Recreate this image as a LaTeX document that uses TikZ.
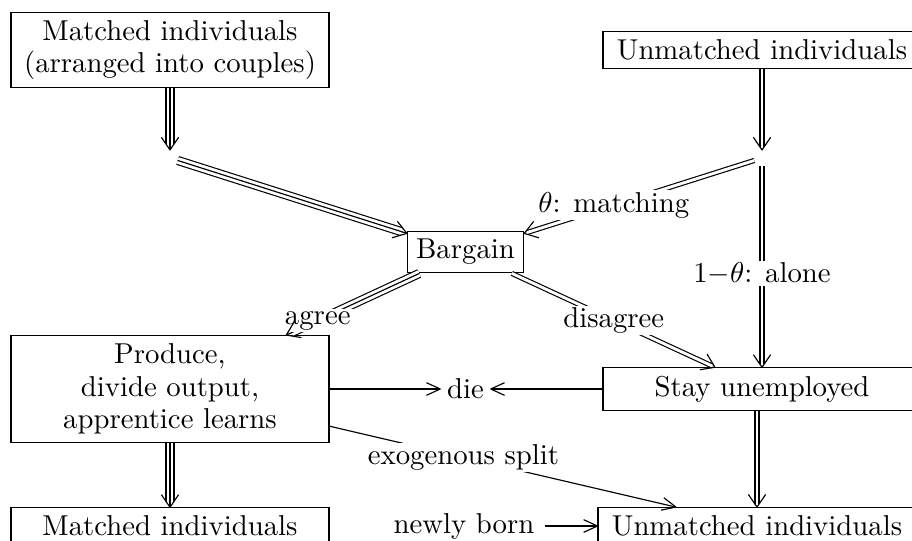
\documentclass[tikz,border=0pt]{standalone}
\usetikzlibrary{decorations.markings}
\begin{document}
\begin{tikzpicture}[x=0.3478pt, y=-0.3478pt,
  box/.style={draw, line width=0.4pt, inner xsep=3pt, inner ysep=2.8pt},
  wbox/.style={box, minimum width=110.6pt, align=center, font=\fontsize{10}{11.3}\selectfont},
  jn/.style={circle, inner sep=0pt, minimum size=5.2pt},
  lbl/.style={fill=white, inner xsep=1pt, inner ysep=0.6pt},
  trip/.style={double, double distance=2.38pt, line width=0.4pt, shorten >=2pt},
  dbl/.style={double, double distance=1pt, line width=0.4pt, shorten >=1pt},
  sgl/.style={line width=0.4pt},
  mhead/.style={decorate, decoration={markings, mark=at position 1 with {\draw[line width=0.4pt, line join=round] (-4.4pt,3pt) -- (0pt,0pt) -- (-4.4pt,-3pt);}}},
  shead/.style={decorate, decoration={markings, mark=at position 1 with {\draw[line width=0.4pt, line join=round] (-4.8pt,2.2pt) -- (0pt,0pt) -- (-4.8pt,-2.2pt);}}}
]
\useasboundingbox (0,0) rectangle (912,540);

% nodes
\node[wbox] (mt) at (170,50) {Matched individuals\\(arranged into couples)};
\node[wbox] (ut) at (762,50) {Unmatched individuals};
\node[jn] (jl) at (170,158) {};
\node[jn] (jr) at (762,158) {};
\node[box] (bar) at (465.5,252) {Bargain};
\node[wbox] (prod) at (170,389) {Produce,\\divide output,\\apprentice learns};
\node[inner xsep=2.2pt, inner ysep=2pt] (die) at (465.5,389) {die};
\node[wbox] (stay) at (762,389) {Stay unemployed};
\node[wbox] (mb) at (170,526) {Matched individuals};
\node[wbox] (ub) at (757,526) {Unmatched individuals};
\node[inner xsep=3.4pt] (nb) at (464,526) {newly born};

% triple connectors
\draw[trip] (mt) -- (jl); \draw[sgl] (mt) -- (jl);
\draw[trip] (jl) -- (bar); \draw[sgl] (jl) -- (bar);
\draw[trip] (bar) -- (prod); \draw[sgl] (bar) -- (prod);
\draw[trip] (prod) -- (mb); \draw[sgl] (prod) -- (mb);
% double connectors
\draw[dbl] (ut) -- (jr);
\draw[dbl] (jr) -- (bar);
\draw[dbl] (jr) -- (stay);
\draw[dbl] (bar) -- (stay);
\draw[dbl] (stay.south -| ub.north) -- (ub.north);
% single connectors
\draw[sgl] (prod) -- (die);
\draw[sgl] (stay) -- (die);
\draw[sgl] (prod) -- (ub);
\draw[sgl] (nb) -- (ub);

% labels
\path (jr.center) -- node[lbl] {$\theta$: matching} (bar.center);
\path (jr.center) -- node[lbl] {$1{-}\theta$: alone} (stay.center);
\path (bar.center) -- node[lbl] {agree} (prod.center);
\path (bar.center) -- node[lbl] {disagree} (stay.center);
\path (prod.center) -- node[lbl] {exogenous split} (ub.center);

% heads
\path[mhead] (mt) -- (jl);
\path[mhead] (jl) -- (bar);
\path[mhead] (bar) -- (prod);
\path[mhead] (prod) -- (mb);
\path[mhead] (ut) -- (jr);
\path[mhead] (jr) -- (bar);
\path[mhead] (jr) -- (stay);
\path[mhead] (bar) -- (stay);
\path[mhead] (stay.south -| ub.north) -- (ub.north);
\path[shead] (prod) -- (die);
\path[shead] (stay) -- (die);
\path[shead] (prod) -- (ub);
\path[shead] (nb) -- (ub);
\end{tikzpicture}
\end{document}
